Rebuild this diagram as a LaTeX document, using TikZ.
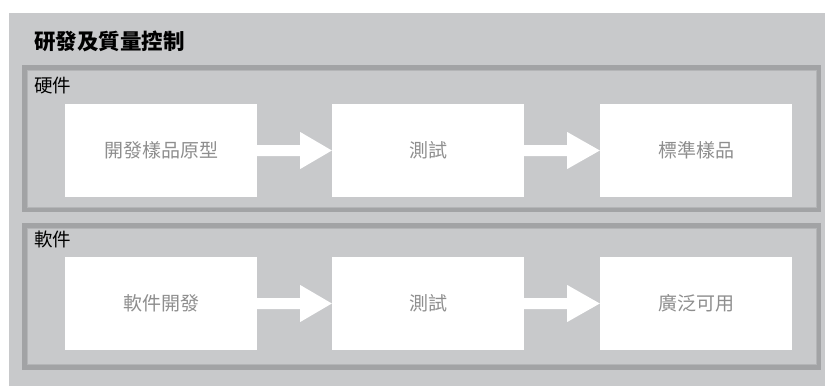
\documentclass[tikz,border=0pt]{standalone}
\usepackage{fontspec}
\setmainfont{Noto Sans CJK TC}
\usetikzlibrary{calc}
\definecolor{bggray}{HTML}{C8C9CB}
\definecolor{framegray}{HTML}{A2A3A5}
\definecolor{framein}{HTML}{B4B5B7}
\definecolor{txtgray}{HTML}{8E8E8E}
\begin{document}
\begin{tikzpicture}[x=1pt,y=-1pt,
  stagebox/.style={fill=white, draw=none, minimum width=192pt, minimum height=93pt, inner sep=0pt,
     text=txtgray, font=\fontsize{19}{19}\selectfont},
  framebox/.style={draw=framegray, line width=4.5pt},
  grouplabel/.style={anchor=west, inner sep=0pt, font=\fontsize{18.5}{19}\selectfont, text=black},
  fatarrow/.style={fill=white, draw=none}
]
\useasboundingbox (0,0) rectangle (825,386);
\fill[bggray] (9,13) rectangle (825,386);
\node[anchor=west, inner sep=0pt, font=\fontsize{21.5}{22}\selectfont\bfseries] (title) at (34,41) {研發及質量控制};
% frames
\draw[framebox] (24.5,67.5) rectangle (819,210);
\draw[framein, line width=1pt] (27.3,70.3) rectangle (816.2,207.2);
\draw[framebox] (24.5,225.5) rectangle (819,367.5);
\draw[framein, line width=1pt] (27.3,228.3) rectangle (816.2,364.7);
\node[grouplabel] (hw) at (34,86) {硬件};
\node[grouplabel] (sw) at (34,239) {軟件};
% hardware row
\node[stagebox] (h1) at (161,150.5) {開發樣品原型};
\node[stagebox] (h2) at (428,150.5) {測試};
\node[stagebox] (h3) at (696,150.5) {標準樣品};
% software row
\node[stagebox] (s1) at (161,303.5) {軟件開發};
\node[stagebox] (s2) at (428,303.5) {測試};
\node[stagebox] (s3) at (696,303.5) {廣泛可用};
% arrows
\foreach \a/\b in {h1/h2,h2/h3,s1/s2,s2/s3}{
  \fill[fatarrow] ($(\a.east)+(0,-5.5)$) -- ++(43,0) -- ++(0,-13) -- (\b.west) -- ($(\a.east)+(43,18.5)$) -- ++(0,-13) -- ($(\a.east)+(0,5.5)$) -- cycle;
}
\end{tikzpicture}
\end{document}
